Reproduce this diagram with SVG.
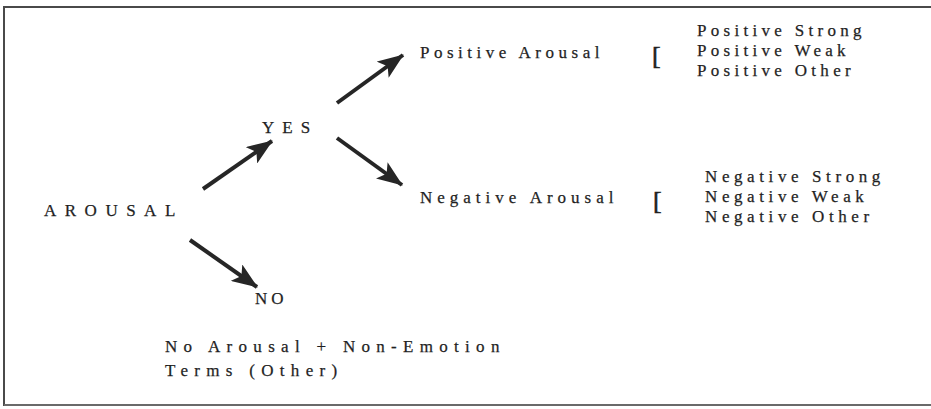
<svg xmlns="http://www.w3.org/2000/svg" width="931" height="409" viewBox="0 0 931 409">
  <defs>
    <marker id="head" viewBox="0 0 26 20" refX="25" refY="10" markerWidth="26" markerHeight="20" markerUnits="userSpaceOnUse" orient="auto">
      <path d="M0,0 L26,10 L0,20 L6,10 Z" fill="#262626"/>
    </marker>
    <style>
      text { font-family: "Liberation Serif", "Times New Roman", "DejaVu Serif", serif; font-size: 17px; fill: #1f1f1f; stroke: #1f1f1f; stroke-width: 0.25; }
      .arrow { stroke: #262626; stroke-width: 4; fill: none; marker-end: url(#head); }
      .brk { font-size: 26px; stroke-width: 0.6; }
    </style>
  </defs>
  <rect width="931" height="409" fill="#ffffff"/>
  <!-- frame -->
  <path d="M4,406 L4,7 L931,7" fill="none" stroke="#4a4a4a" stroke-width="2"/>
  <path d="M4,405 L931,405" fill="none" stroke="#6a6a6a" stroke-width="2"/>

  <g id="connectors">
    <line class="arrow" x1="203" y1="189" x2="272" y2="141"/>
    <line class="arrow" x1="337" y1="103" x2="403" y2="55"/>
    <line class="arrow" x1="337" y1="138" x2="402" y2="185"/>
    <line class="arrow" x1="190" y1="240" x2="257" y2="287"/>
  </g>

  <g id="arousal">
    <text x="44" y="216" letter-spacing="8.5">AROUSAL</text>
  </g>
  <g id="yes">
    <text x="262" y="133" letter-spacing="8">YES</text>
  </g>
  <g id="no">
    <text x="255" y="304" letter-spacing="4">NO</text>
  </g>
  <g id="positive-arousal">
    <text x="420" y="58" letter-spacing="4.5">Positive Arousal</text>
    <text class="brk" x="652" y="64">[</text>
    <text x="697" y="36" letter-spacing="4.3">Positive Strong</text>
    <text x="697" y="56" letter-spacing="4.3">Positive Weak</text>
    <text x="697" y="76" letter-spacing="4.3">Positive Other</text>
  </g>
  <g id="negative-arousal">
    <text x="420" y="203" letter-spacing="5">Negative Arousal</text>
    <text class="brk" x="653" y="209">[</text>
    <text x="705" y="182" letter-spacing="4.6">Negative Strong</text>
    <text x="705" y="202" letter-spacing="4.6">Negative Weak</text>
    <text x="705" y="222" letter-spacing="4.6">Negative Other</text>
  </g>
  <g id="no-arousal">
    <text x="165" y="352" letter-spacing="6.3">No Arousal + Non-Emotion</text>
    <text x="165" y="376" letter-spacing="6.3">Terms (Other)</text>
  </g>
</svg>
